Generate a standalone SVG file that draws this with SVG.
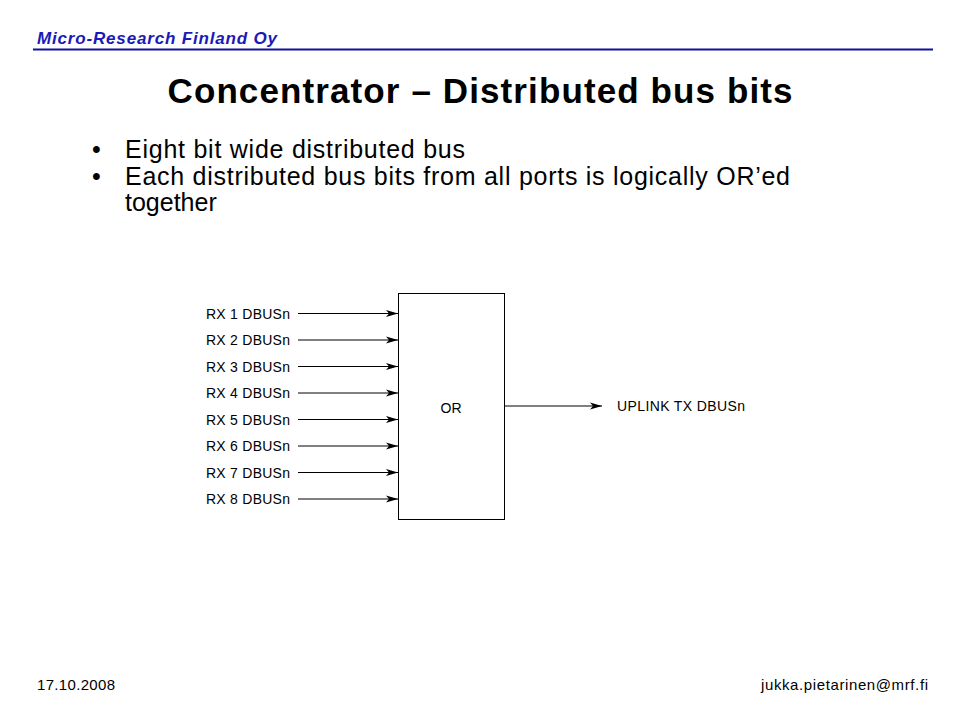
<svg xmlns="http://www.w3.org/2000/svg" width="960" height="720" viewBox="0 0 960 720">
  <style>
    .hdr { font-family: "Liberation Sans", Arial, sans-serif; font-size: 17px; font-weight: bold; font-style: italic; fill: #1a1ab8; }
    .title { font-family: "Liberation Sans", Arial, sans-serif; font-size: 35px; font-weight: bold; fill: #000; }
    .bul { font-family: "Liberation Sans", Arial, sans-serif; font-size: 25px; fill: #000; }
    .foot { font-family: "Liberation Sans", Arial, sans-serif; font-size: 15px; fill: #000; }
    .lbl { font-family: "Liberation Sans", Arial, sans-serif; font-size: 14px; fill: #000; }
    .wire { stroke: #000; stroke-width: 1; fill: none; marker-end: url(#arr); }
  </style>
  <defs>
    <marker id="arr" markerUnits="userSpaceOnUse" markerWidth="14" markerHeight="10" viewBox="-13 -5 14 10" refX="0" refY="0" orient="auto">
      <path d="M0,0 L-12,-3.5 L-9,0 L-12,3.5 Z" fill="#000"/>
    </marker>
  </defs>
  <rect width="960" height="720" fill="#fff"/>

  <g id="header">
    <text class="hdr" x="37" y="44" textLength="240">Micro-Research Finland Oy</text>
    <rect x="33" y="48.5" width="900" height="2" fill="#10109e"/>
  </g>

  <g id="title">
    <text class="title" x="480" y="103" text-anchor="middle" textLength="625">Concentrator – Distributed bus bits</text>
  </g>

  <g id="bullets">
    <text class="bul" x="92" y="158">•</text>
    <text class="bul" x="125" y="158" textLength="340">Eight bit wide distributed bus</text>
    <text class="bul" x="92" y="185">•</text>
    <text class="bul" x="125" y="185" textLength="665">Each distributed bus bits from all ports is logically OR’ed</text>
    <text class="bul" x="125" y="211">together</text>
  </g>

  <g id="or-block">
    <rect x="398.5" y="293.5" width="106" height="226" fill="#fff" stroke="#000" stroke-width="1"/>
    <text class="lbl" x="451" y="413" text-anchor="middle">OR</text>
  </g>

  <g id="inputs">
    <text class="lbl" x="206" y="318.5" textLength="84">RX 1 DBUSn</text>
    <text class="lbl" x="206" y="345" textLength="84">RX 2 DBUSn</text>
    <text class="lbl" x="206" y="371.5" textLength="84">RX 3 DBUSn</text>
    <text class="lbl" x="206" y="398" textLength="84">RX 4 DBUSn</text>
    <text class="lbl" x="206" y="424.5" textLength="84">RX 5 DBUSn</text>
    <text class="lbl" x="206" y="451" textLength="84">RX 6 DBUSn</text>
    <text class="lbl" x="206" y="477.5" textLength="84">RX 7 DBUSn</text>
    <text class="lbl" x="206" y="504" textLength="84">RX 8 DBUSn</text>
  </g>

  <g id="output">
    <text class="lbl" x="617" y="411" textLength="128">UPLINK TX DBUSn</text>
  </g>

  <g id="connectors">
    <line class="wire" x1="298" y1="313.5" x2="398" y2="313.5"/>
    <line class="wire" x1="298" y1="340" x2="398" y2="340"/>
    <line class="wire" x1="298" y1="366.5" x2="398" y2="366.5"/>
    <line class="wire" x1="298" y1="393" x2="398" y2="393"/>
    <line class="wire" x1="298" y1="419.5" x2="398" y2="419.5"/>
    <line class="wire" x1="298" y1="446" x2="398" y2="446"/>
    <line class="wire" x1="298" y1="472.5" x2="398" y2="472.5"/>
    <line class="wire" x1="298" y1="499" x2="398" y2="499"/>
    <line class="wire" x1="505" y1="406" x2="602" y2="406"/>
  </g>

  <g id="footer">
    <text class="foot" x="37" y="690" textLength="78">17.10.2008</text>
    <text class="foot" x="928" y="690" text-anchor="end" textLength="167">jukka.pietarinen@mrf.fi</text>
  </g>
</svg>
